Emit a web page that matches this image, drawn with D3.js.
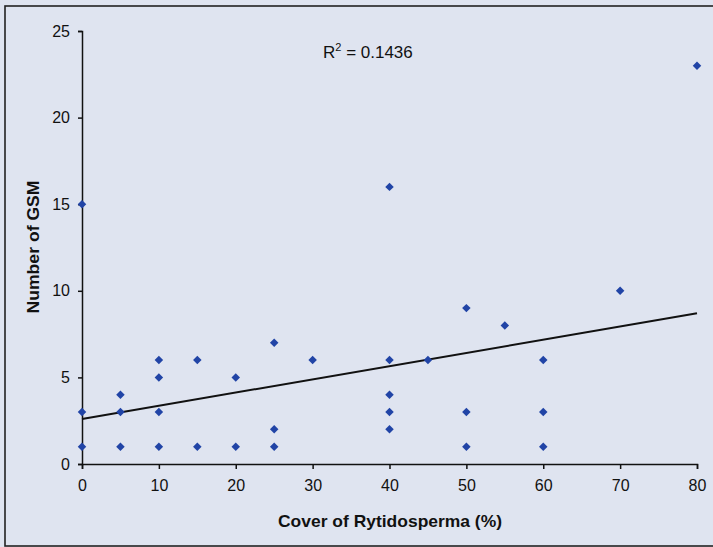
<!DOCTYPE html>
<html lang="en">
<head>
    <meta charset="UTF-8">
    <title>Number of GSM vs Cover of Rytidosperma</title>
    <script src="https://d3js.org/d3.v7.min.js"></script>
    <style>
        body {
            margin: 0;
            padding: 0;
            background-color: #dfe4f0;
            overflow: hidden;
        }
        .tick text {
            font-family: "Liberation Sans", Arial, sans-serif;
            font-size: 16px;
            fill: #111;
        }
        .axis-label {
            font-family: "Liberation Sans", Arial, sans-serif;
            font-size: 17px;
            font-weight: bold;
            fill: #111;
            text-anchor: middle;
        }
    </style>
</head>
<body>
    <div id="chart"></div>
    <script>
        const width = 713;
        const height = 547;
        const margin = { top: 31, right: 15, bottom: 83, left: 82 };

        // cover of Rytidosperma (%) and number of GSM
        const coverValues = [0, 0, 0, 5, 5, 5, 10, 10, 10, 10, 15, 15, 20, 20, 25, 25, 25, 30, 40, 40, 40, 40, 40, 45, 50, 50, 50, 55, 60, 60, 60, 70, 80];
        const gsmValues   = [15, 3, 1, 4, 3, 1, 6, 5, 3, 1, 6, 1, 5, 1, 7, 2, 1, 6, 16, 6, 4, 3, 2, 6, 9, 3, 1, 8, 6, 3, 1, 10, 23];

        // linear trend line end points (as drawn)
        const trendX = [0, 80];
        const trendY = [2.6, 8.7];
        const rSquared = "0.1436";

        const xTicks = [0, 10, 20, 30, 40, 50, 60, 70, 80];
        const yTicks = [0, 5, 10, 15, 20, 25];

        const data = coverValues.map((c, i) => ({ x: c, y: gsmValues[i] }));

        const svg = d3.select("#chart")
            .append("svg")
            .attr("width", width)
            .attr("height", height);

        svg.append("rect")
            .attr("x", 0).attr("y", 0)
            .attr("width", width).attr("height", height)
            .attr("fill", "#dfe4f0");

        // outer frame of the chart
        svg.append("rect")
            .attr("x", 5).attr("y", 6)
            .attr("width", 740).attr("height", 540)
            .attr("fill", "none")
            .attr("stroke", "#222")
            .attr("stroke-width", 1.6);

        const x = d3.scaleLinear().domain([0, 80]).range([margin.left, width - margin.right - 1]);
        const y = d3.scaleLinear().domain([0, 25]).range([height - margin.bottom, margin.top]);

        const xAxis = d3.axisBottom(x).tickValues(xTicks).tickSizeInner(5).tickSizeOuter(5).tickPadding(11);
        const yAxis = d3.axisLeft(y).tickValues(yTicks).tickSizeInner(4).tickSizeOuter(4).tickPadding(8);

        const gx = svg.append("g")
            .attr("transform", `translate(0,${height - margin.bottom})`)
            .call(xAxis);

        const gy = svg.append("g")
            .attr("transform", `translate(${margin.left},0)`)
            .call(yAxis);

        [gx, gy].forEach(g => {
            g.selectAll("path, line").attr("stroke", "#111").attr("stroke-width", 1.5);
        });

        // axis titles
        svg.append("text")
            .attr("class", "axis-label")
            .attr("x", 390)
            .attr("y", 527)
            .attr("textLength", 224)
            .attr("lengthAdjust", "spacingAndGlyphs")
            .text("Cover of Rytidosperma (%)");

        svg.append("text")
            .attr("class", "axis-label")
            .attr("transform", "rotate(-90)")
            .attr("x", -247)
            .attr("y", 39)
            .attr("textLength", 133)
            .attr("lengthAdjust", "spacingAndGlyphs")
            .text("Number of GSM");

        // trend line
        svg.append("line")
            .attr("x1", x(trendX[0])).attr("y1", y(trendY[0]))
            .attr("x2", x(trendX[1])).attr("y2", y(trendY[1]))
            .attr("stroke", "#111")
            .attr("stroke-width", 2);

        // points
        const diamond = d3.symbol().type(d3.symbolSquare).size(36);
        svg.selectAll(".pt")
            .data(data)
            .enter()
            .append("path")
            .attr("class", "pt")
            .attr("d", diamond)
            .attr("transform", d => `translate(${x(d.x)},${y(d.y)}) rotate(45)`)
            .attr("fill", "#2144a6");

        // R squared
        const r2 = svg.append("text")
            .attr("x", 323)
            .attr("y", 58)
            .attr("font-family", "'Liberation Sans', Arial, sans-serif")
            .attr("font-size", 17)
            .attr("fill", "#111");
        r2.append("tspan").text("R");
        r2.append("tspan").attr("font-size", 11).attr("dy", -7).text("2");
        r2.append("tspan").attr("dy", 7).text(" = " + rSquared);
    </script>
</body>
</html>
